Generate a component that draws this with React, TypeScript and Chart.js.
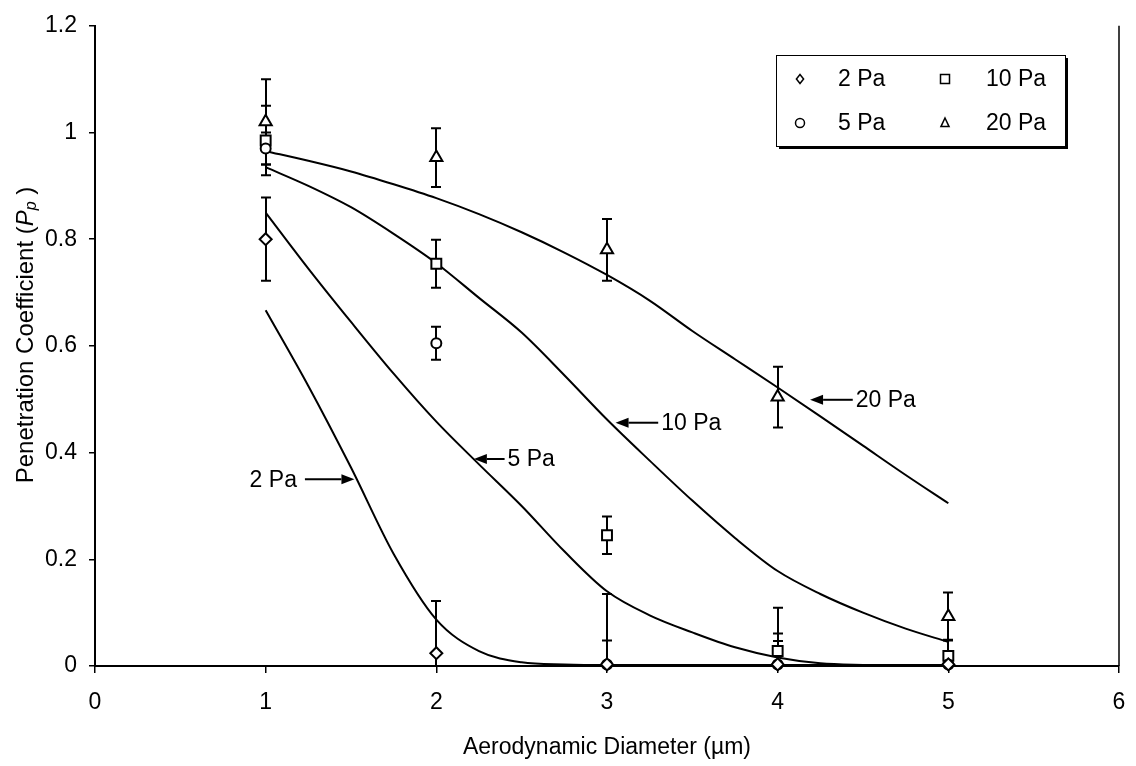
import React, { useEffect, useRef } from "react";
import { Chart, registerables } from "chart.js";

Chart.register(...registerables);

// ---------- data ----------
const xCategories = [1, 2, 3, 4, 5];
const seriesNames = ["2 Pa", "5 Pa", "10 Pa", "20 Pa"];
const seriesStyles = ["rectRot", "circle", "rect", "triangle"];

const pa2Values = [0.8, 0.024, 0.003, 0.003, 0.003];
const pa2Errors = [0.078, 0.098, 0.045, 0.044, 0.01];
const pa5Values = [0.97, 0.605, 0.003, 0.003, 0.003];
const pa5Errors = [0.03, 0.031, 0.132, 0.106, 0.01];
const pa10Values = [0.985, 0.754, 0.245, 0.028, 0.019];
const pa10Errors = [0.065, 0.045, 0.035, 0.033, 0.03];
const pa20Values = [1.02, 0.953, 0.78, 0.504, 0.093];
const pa20Errors = [0.08, 0.055, 0.058, 0.057, 0.045];

const curveX = [1, 1.25, 1.5, 1.75, 2, 2.25, 2.5, 2.75, 3, 3.25, 3.5, 3.75, 4, 4.25, 4.5, 4.75, 5];
const curve2Pa = [0.667, 0.525, 0.372, 0.21, 0.087, 0.028, 0.007, 0.003, 0.002, 0.002, 0.002, 0.002, 0.002, 0.002, 0.002, 0.002, 0.002];
const curve5Pa = [0.85, 0.745, 0.645, 0.548, 0.458, 0.378, 0.3, 0.215, 0.14, 0.095, 0.063, 0.035, 0.016, 0.005, 0.002, 0.001, 0.001];
const curve10Pa = [0.935, 0.9, 0.86, 0.81, 0.755, 0.69, 0.625, 0.545, 0.462, 0.385, 0.31, 0.24, 0.178, 0.135, 0.1, 0.07, 0.045];
const curve20Pa = [0.965, 0.947, 0.927, 0.903, 0.877, 0.847, 0.813, 0.775, 0.733, 0.685, 0.628, 0.575, 0.522, 0.468, 0.413, 0.358, 0.305];

const xTickValues = [0, 1, 2, 3, 4, 5, 6];
const yTickLabels = ["0", "0.2", "0.4", "0.6", "0.8", "1", "1.2"];

const arrowLabels = ["2 Pa", "5 Pa", "10 Pa", "20 Pa"];
const arrowTipX = [1.52, 2.22, 3.05, 4.19];
const arrowTipY = [0.35, 0.388, 0.456, 0.499];
const arrowTailX = [1.23, 2.4, 3.3, 4.44];

const xTitle = "Aerodynamic Diameter (\u00b5m)";
const yTitleMain = "Penetration Coefficient (";
const yTitleSymbol = "P";
const yTitleSub = "p";
const yTitleEnd = " )";

const FONT = '"Liberation Sans", Arial, sans-serif';

const markerValues = [pa2Values, pa5Values, pa10Values, pa20Values];
const markerErrors = [pa2Errors, pa5Errors, pa10Errors, pa20Errors];
const curves = [curve2Pa, curve5Pa, curve10Pa, curve20Pa];
const markerRadius = [6, 5, 7, 7];

function drawMarker(ctx: CanvasRenderingContext2D, style: string, x: number, y: number, r: number) {
  ctx.beginPath();
  if (style === "rectRot") {
    ctx.moveTo(x, y - r);
    ctx.lineTo(x + r * 0.8, y);
    ctx.lineTo(x, y + r);
    ctx.lineTo(x - r * 0.8, y);
    ctx.closePath();
  } else if (style === "circle") {
    ctx.arc(x, y, r, 0, Math.PI * 2);
  } else if (style === "rect") {
    ctx.rect(x - r, y - r, 2 * r, 2 * r);
  } else {
    ctx.moveTo(x, y - r * 1.1);
    ctx.lineTo(x + r * 0.9, y + r * 0.8);
    ctx.lineTo(x - r * 0.9, y + r * 0.8);
    ctx.closePath();
  }
  ctx.fillStyle = "#fff";
  ctx.fill();
  ctx.stroke();
}

const errorBarPlugin = {
  id: "errorBars",
  beforeDatasetsDraw(chart: any) {
    const { ctx, chartArea, scales } = chart;
    const xs = scales.x;
    const ys = scales.y;
    ctx.save();
    ctx.beginPath();
    ctx.rect(chartArea.left, chartArea.top, chartArea.right - chartArea.left, chartArea.bottom - chartArea.top);
    ctx.clip();
    ctx.strokeStyle = "#000";
    ctx.lineWidth = 2;
    markerValues.forEach((vals, s) => {
      vals.forEach((v, i) => {
        const e = markerErrors[s][i];
        const px = Math.round(xs.getPixelForValue(xCategories[i]));
        const top = ys.getPixelForValue(v + e);
        const bot = ys.getPixelForValue(v - e);
        ctx.beginPath();
        ctx.moveTo(px, top);
        ctx.lineTo(px, bot);
        ctx.moveTo(px - 5, top);
        ctx.lineTo(px + 5, top);
        ctx.moveTo(px - 5, bot);
        ctx.lineTo(px + 5, bot);
        ctx.stroke();
      });
    });
    ctx.restore();
  },
};

const decorPlugin = {
  id: "decor",
  afterDatasetsDraw(chart: any) {
    const { ctx, chartArea, scales } = chart;
    const xs = scales.x;
    const ys = scales.y;
    ctx.save();
    // right border
    ctx.strokeStyle = "#000";
    ctx.lineWidth = 1.5;
    ctx.beginPath();
    ctx.moveTo(chartArea.right, chartArea.top);
    ctx.lineTo(chartArea.right, chartArea.bottom);
    ctx.stroke();

    // arrows with labels
    ctx.lineWidth = 2;
    ctx.fillStyle = "#000";
    ctx.font = `23px ${FONT}`;
    ctx.textBaseline = "middle";
    arrowLabels.forEach((label, i) => {
      const tipX = xs.getPixelForValue(arrowTipX[i]);
      const tipY = ys.getPixelForValue(arrowTipY[i]);
      const tailX = xs.getPixelForValue(arrowTailX[i]);
      const dir = tailX > tipX ? 1 : -1; // tail side
      const headLen = 13;
      ctx.beginPath();
      ctx.moveTo(tailX, tipY);
      ctx.lineTo(tipX + dir * headLen, tipY);
      ctx.stroke();
      ctx.beginPath();
      ctx.moveTo(tipX, tipY);
      ctx.lineTo(tipX + dir * headLen, tipY - 5);
      ctx.lineTo(tipX + dir * headLen, tipY + 5);
      ctx.closePath();
      ctx.fill();
      if (dir > 0) {
        ctx.textAlign = "left";
        ctx.fillText(label, tailX + 3, tipY + 1);
      } else {
        ctx.textAlign = "right";
        ctx.fillText(label, tailX - 8, tipY + 1);
      }
    });
    ctx.restore();
  },
  afterDraw(chart: any) {
    const { ctx } = chart;
    ctx.save();
    // legend box
    const bx = 776, by = 55, bw = 289, bh = 91;
    ctx.fillStyle = "#000";
    ctx.fillRect(bx + 3, by + 3, bw, bh);
    ctx.fillStyle = "#fff";
    ctx.fillRect(bx, by, bw, bh);
    ctx.strokeStyle = "#000";
    ctx.lineWidth = 1;
    ctx.strokeRect(bx + 0.5, by + 0.5, bw, bh);
    const cols = [[800, 838], [945, 986]];
    const rows = [79, 123];
    const order = [0, 2, 1, 3]; // 2 Pa, 10 Pa / 5 Pa, 20 Pa
    ctx.font = `23px ${FONT}`;
    ctx.textBaseline = "middle";
    ctx.textAlign = "left";
    ctx.lineWidth = 1.5;
    order.forEach((s, k) => {
      const col = cols[k % 2];
      const row = rows[Math.floor(k / 2)];
      ctx.strokeStyle = "#000";
      drawMarker(ctx, seriesStyles[s], col[0], row, 4.5);
      ctx.fillStyle = "#000";
      ctx.fillText(seriesNames[s], col[1], row + 1);
    });

    // y-axis title with italic subscript
    const cx = 26;
    const cy = 335;
    ctx.translate(cx, cy);
    ctx.rotate(-Math.PI / 2);
    const parts = [
      { t: yTitleMain, f: `24px ${FONT}`, dy: 0 },
      { t: yTitleSymbol, f: `italic 24px ${FONT}`, dy: 0 },
      { t: yTitleSub, f: `italic 16px ${FONT}`, dy: 6 },
      { t: yTitleEnd, f: `24px ${FONT}`, dy: 0 },
    ];
    let total = 0;
    parts.forEach((p) => {
      ctx.font = p.f;
      total += ctx.measureText(p.t).width;
    });
    let px = -total / 2;
    ctx.fillStyle = "#000";
    ctx.textBaseline = "middle";
    ctx.textAlign = "left";
    parts.forEach((p) => {
      ctx.font = p.f;
      ctx.fillText(p.t, px, p.dy);
      px += ctx.measureText(p.t).width;
    });
    ctx.restore();
  },
};

export default function App() {
  const canvasRef = useRef<HTMLCanvasElement | null>(null);

  useEffect(() => {
    if (!canvasRef.current) return;
    const markerSets = markerValues.map((vals, s) => ({
      label: seriesNames[s],
      data: vals.map((v, i) => ({ x: xCategories[i], y: v })),
      showLine: false,
      pointStyle: seriesStyles[s],
      pointRadius: markerRadius[s],
      pointBackgroundColor: "#fff",
      pointBorderColor: "#000",
      pointBorderWidth: 2,
      borderColor: "#000",
      backgroundColor: "#fff",
      clip: false as any,
      order: 0,
    }));
    const curveSets = curves.map((c, s) => ({
      label: seriesNames[s] + " fit",
      data: c.map((v, i) => ({ x: curveX[i], y: v })),
      showLine: true,
      pointRadius: 0,
      borderColor: "#000",
      borderWidth: 2,
      cubicInterpolationMode: "monotone" as const,
      fill: false,
      order: 1,
    }));

    const chart = new Chart(canvasRef.current, {
      type: "line",
      data: { datasets: [...markerSets, ...curveSets] as any },
      plugins: [errorBarPlugin, decorPlugin],
      options: {
        responsive: false,
        animation: false,
        devicePixelRatio: 1,
        events: [],
        layout: { padding: { top: 19, right: 0, left: 0, bottom: 0 } },
        plugins: {
          legend: { display: false },
          tooltip: { enabled: false },
          title: { display: false },
        },
        scales: {
          x: {
            type: "linear",
            min: 0,
            max: 6,
            afterFit: (s: any) => {
              s.height = 100;
              s.paddingRight = 17;
              s.paddingLeft = 0;
            },
            afterBuildTicks: (s: any) => {
              s.ticks = xTickValues.map((v) => ({ value: v }));
            },
            ticks: {
              color: "#000",
              font: { family: FONT, size: 23 },
              padding: 16,
              maxRotation: 0,
              callback: (v: any) => String(v),
            },
            grid: {
              drawOnChartArea: false,
              drawTicks: true,
              tickLength: 7,
              color: "#000",
              lineWidth: 1.5,
            },
            border: { display: true, color: "#000", width: 2 },
            title: {
              display: true,
              text: xTitle,
              color: "#000",
              font: { family: FONT, size: 23 },
              padding: { top: 0, bottom: 5 },
            },
          },
          y: {
            type: "linear",
            min: 0,
            max: 1.2,
            afterFit: (s: any) => {
              s.width = 95;
            },
            afterBuildTicks: (s: any) => {
              s.ticks = yTickLabels.map((t) => ({ value: parseFloat(t) }));
            },
            ticks: {
              color: "#000",
              font: { family: FONT, size: 23 },
              padding: 12,
              callback: (v: any, i: number) => yTickLabels[i],
            },
            grid: {
              drawOnChartArea: false,
              drawTicks: true,
              tickLength: 6,
              color: "#000",
              lineWidth: 1.5,
            },
            border: { display: true, color: "#000", width: 2 },
          },
        },
      },
    });
    return () => chart.destroy();
  }, []);

  return (
    <div style={{ position: "fixed", left: 0, top: 0, width: 1136, height: 766, background: "#fff" }}>
      <canvas ref={canvasRef} width={1136} height={766} style={{ display: "block" }} />
    </div>
  );
}
